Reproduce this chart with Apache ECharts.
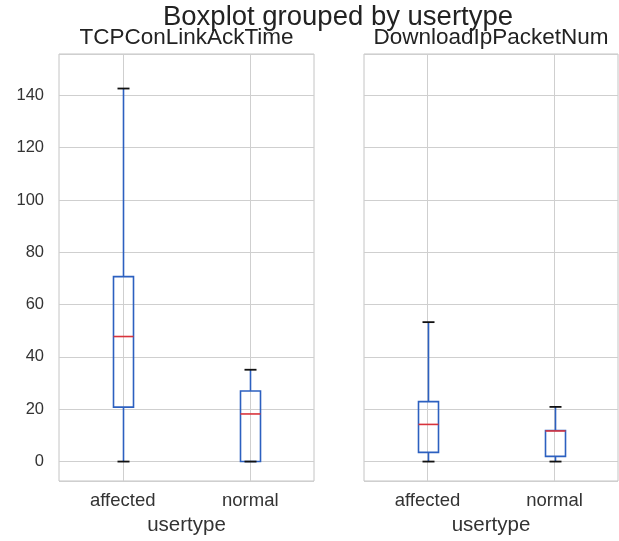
<!DOCTYPE html>
<html>
<head>
<meta charset="utf-8">
<script src="https://cdn.jsdelivr.net/npm/echarts@6/dist/echarts.min.js"></script>
<style>html,body{margin:0;padding:0;background:#fff;}#c{width:619px;height:541px;}</style>
</head>
<body>
<div id="c"></div>
<script>
// categories
const categories = ['affected', 'normal'];
// box stats: [min, Q1, median, Q3, max]
const tcpAffected = [0, 20.8, 47.8, 70.7, 142.6];
const tcpNormal = [0, 0, 18.2, 27.0, 35.1];
const dlAffected = [0, 3.5, 14.2, 22.9, 53.3];
const dlNormal = [0, 2.0, 11.7, 11.9, 20.9];
// tick labels
const yTicks = [0, 20, 40, 60, 80, 100, 120, 140];
const panelTitles = ['TCPConLinkAckTime', 'DownloadIpPacketNum'];

const FONT = 'Liberation Sans, Arial, sans-serif';
const BLUE = '#2c60c0';
const RED = '#d8333c';

function renderBox(params, api) {
  const cat = api.value(0);
  const pMin = api.coord([cat, api.value(1)]);
  const pQ1 = api.coord([cat, api.value(2)]);
  const pMed = api.coord([cat, api.value(3)]);
  const pQ3 = api.coord([cat, api.value(4)]);
  const pMax = api.coord([cat, api.value(5)]);
  const cx = Math.round(pMin[0]) + 0.5;
  const bw = 20, cw = 12;
  const ls = {stroke: BLUE, lineWidth: 1.6, fill: null};
  return {
    type: 'group',
    children: [
      {type: 'line', shape: {x1: cx, y1: pQ1[1], x2: cx, y2: pMin[1]}, style: ls},
      {type: 'line', shape: {x1: cx, y1: pQ3[1], x2: cx, y2: pMax[1]}, style: ls},
      {type: 'rect', shape: {x: cx - bw / 2, y: pQ3[1], width: bw, height: pQ1[1] - pQ3[1]}, style: ls},
      {type: 'line', shape: {x1: cx - bw / 2, y1: pMed[1], x2: cx + bw / 2, y2: pMed[1]}, style: {stroke: RED, lineWidth: 1.6}},
      {type: 'line', shape: {x1: cx - cw / 2, y1: pMin[1], x2: cx + cw / 2, y2: pMin[1]}, style: {stroke: '#111', lineWidth: 1.8}},
      {type: 'line', shape: {x1: cx - cw / 2, y1: pMax[1], x2: cx + cw / 2, y2: pMax[1]}, style: {stroke: '#111', lineWidth: 1.8}}
    ]
  };
}

function xAxisOf(gi) {
  return {
    type: 'category', gridIndex: gi, data: categories, boundaryGap: true,
    axisLine: {show: false}, axisTick: {show: false},
    axisLabel: {color: '#333', fontSize: 18.5, fontFamily: FONT, margin: 10},
    splitLine: {show: true, alignWithLabel: true, lineStyle: {color: '#cfcfcf', width: 1}},
    name: 'usertype', nameLocation: 'middle', nameGap: 34,
    nameTextStyle: {color: '#333', fontSize: 20.5, fontFamily: FONT}
  };
}
function yAxisOf(gi, showLabels) {
  return {
    type: 'value', gridIndex: gi, min: -7.43, max: 155.8, splitNumber: 8,
    axisLine: {show: false}, axisTick: {show: false},
    axisLabel: {show: showLabels, color: '#333', fontSize: 16.5, fontFamily: FONT, margin: 15,
      showMinLabel: false, showMaxLabel: false,
      formatter: v => (yTicks.indexOf(Math.round(v * 1000) / 1000) >= 0 ? String(v) : '')},
    splitLine: {show: true, lineStyle: {color: '#cfcfcf', width: 1}}
  };
}

const chart = echarts.init(document.getElementById('c'), null, {renderer: 'canvas'});
chart.setOption({
  backgroundColor: '#ffffff',
  animation: false,
  grid: [
    {left: 59, top: 54, width: 255, height: 433, show: true, borderColor: '#c4c4c4', borderWidth: 1, backgroundColor: 'transparent'},
    {left: 364, top: 54, width: 254, height: 433, show: true, borderColor: '#c4c4c4', borderWidth: 1, backgroundColor: 'transparent'}
  ],
  xAxis: [xAxisOf(0), xAxisOf(1)],
  yAxis: [yAxisOf(0, true), yAxisOf(1, false)],
  graphic: [
    {type: 'text', x: 338, y: 17, style: {text: 'Boxplot grouped by usertype', fontSize: 27.5, fontFamily: FONT, fill: '#222', align: 'center', verticalAlign: 'middle'}},
    {type: 'text', x: 186.5, y: 38, style: {text: panelTitles[0], fontSize: 22.5, fontFamily: FONT, fill: '#222', align: 'center', verticalAlign: 'middle'}},
    {type: 'text', x: 491, y: 38, style: {text: panelTitles[1], fontSize: 22.5, fontFamily: FONT, fill: '#222', align: 'center', verticalAlign: 'middle'}}
  ],
  series: [
    {type: 'custom', xAxisIndex: 0, yAxisIndex: 0, renderItem: renderBox, encode: {x: 0, y: [1, 2, 3, 4, 5]},
      data: [[0].concat(tcpAffected), [1].concat(tcpNormal)]},
    {type: 'custom', xAxisIndex: 1, yAxisIndex: 1, renderItem: renderBox, encode: {x: 0, y: [1, 2, 3, 4, 5]},
      data: [[0].concat(dlAffected), [1].concat(dlNormal)]}
  ]
});
</script>
</body>
</html>
